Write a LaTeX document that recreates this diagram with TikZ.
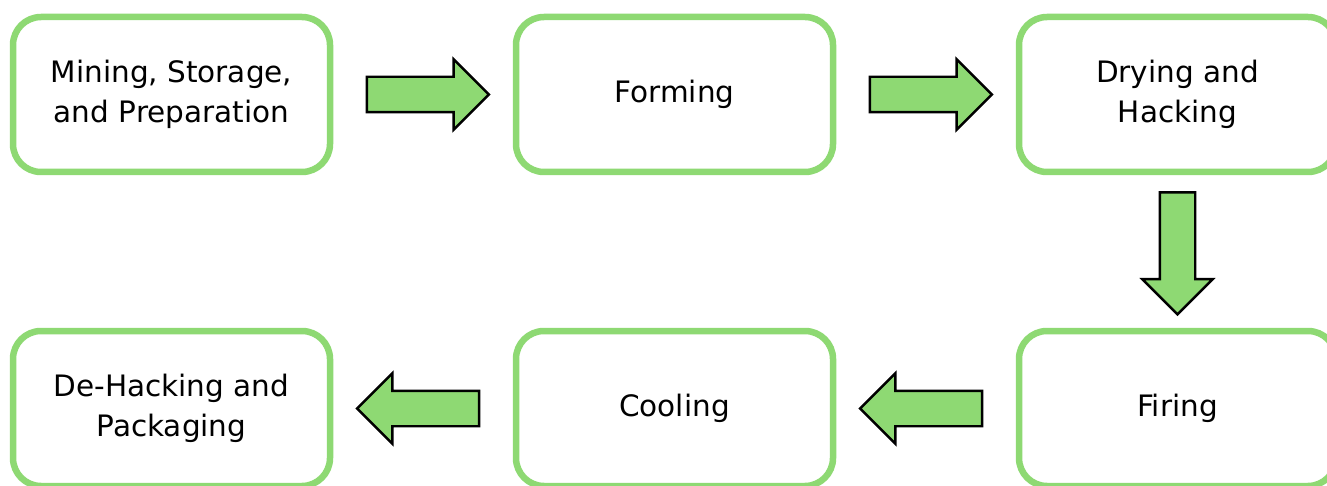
\documentclass[tikz,border=0pt]{standalone}
\usepackage{fontspec}
\setmainfont{DejaVu Sans}
\usetikzlibrary{shapes.arrows,calc}
\definecolor{stepgreen}{HTML}{8ED973}
\begin{document}
\begin{tikzpicture}[x=1pt,y=-1pt,
	stage/.style={draw=stepgreen, line width=6.5pt, rounded corners=28pt, fill=white,
		minimum width=317pt, minimum height=155pt, align=center,
		font=\fontsize{29.5}{40}\selectfont},
	flow/.style={single arrow, draw=black, fill=stepgreen, line width=2.4pt,
		inner xsep=0pt, inner ysep=16.5pt, single arrow head extend=17.5pt,
		minimum height=122pt}]
	\useasboundingbox (0,0) rectangle (1327,486);

	% top row
	\node[stage] (mining) at (171.5,94.5) {Mining, Storage,\\and Preparation};
	\node[stage] (forming) at (674.5,94.5) {Forming};
	\node[stage] (drying) at (1177.5,94.5) {Drying and\\Hacking};

	% bottom row
	\node[stage] (dehacking) at (171.5,408.5) {De-Hacking and\\Packaging};
	\node[stage] (cooling) at (674.5,408.5) {Cooling};
	\node[stage] (firing) at (1177.5,408.5) {Firing};

	\node[flow] (f1) at ($(mining.east)!0.5!(forming.west)+(-4,0)$) {};
	\node[flow] (f2) at ($(forming.east)!0.5!(drying.west)+(-4,0)$) {};
	\node[flow, rotate=-90] (f3) at ($(drying.south)!0.5!(firing.north)+(0,-7)$) {};
	\node[flow, rotate=180] (f4) at ($(firing.west)!0.5!(cooling.east)+(4,0)$) {};
	\node[flow, rotate=180] (f5) at ($(cooling.west)!0.5!(dehacking.east)+(4,0)$) {};
\end{tikzpicture}
\end{document}
